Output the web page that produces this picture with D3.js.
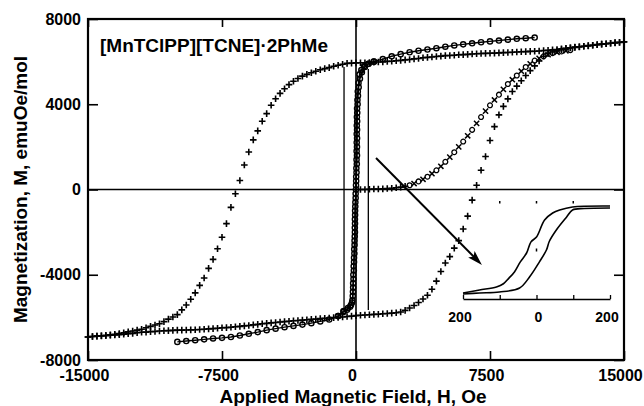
<!DOCTYPE html>
<html>
<head>
<meta charset="utf-8">
<script src="https://cdn.jsdelivr.net/npm/d3@7"></script>
<style>
  body { margin: 0; background: #fff; }
  text { font-family: "Liberation Sans", Arial, sans-serif; font-weight: bold; fill: #000; }
</style>
</head>
<body>
<div id="chart"></div>
<script>
// tick values
const xTicks = [-15000, -7500, 0, 7500, 15000]
const yTicks = [-8000, -4000, 0, 4000, 8000]
const insetTicks = [-200, -100, 0, 100, 200]
const insetLabelAt = [-200, 0, 200]
const insetLabels = ["200", "0", "200"]
const insetTopMarks = [-100, 0, 100]

const title = "[MnTClPP][TCNE]\u00b72PhMe"
const xTitle = "Applied Magnetic Field, H, Oe"
const yTitle = "Magnetization, M, emuOe/mol"

// big loop, "+" markers: [H (Oe), M (emuOe/mol)]
const plusDown = [
  [15000,6930],[14750,6910],[14500,6890],[14250,6860],[14000,6840],[13750,6820],[13500,6800],[13250,6770],
  [13000,6750],[12750,6720],[12500,6700],[12250,6680],[12000,6650],[11750,6630],[11500,6600],[11250,6570],
  [11000,6550],[10750,6530],[10500,6520],[10250,6500],[10000,6490],[9750,6480],[9500,6470],[9250,6460],
  [9000,6450],[8750,6440],[8500,6430],[8250,6420],[8000,6410],[7750,6400],[7500,6390],[7250,6385],
  [7000,6380],[6750,6370],[6500,6360],[6250,6340],[6000,6330],[5750,6320],[5500,6300],[5250,6290],
  [5000,6280],[4750,6260],[4500,6240],[4250,6220],[4000,6200],[3750,6180],[3500,6150],[3250,6130],
  [3000,6100],[2750,6080],[2500,6060],[2250,6040],[2000,6020],[1750,6010],[1500,5990],[1250,5980],
  [1000,5970],[750,5960],[500,5950],[250,5945],[0,5940],[-250,5930],[-500,5920],[-750,5880],
  [-1000,5830],[-1250,5780],[-1500,5720],[-1750,5670],[-2000,5620],[-2250,5550],[-2500,5480],[-2750,5400],
  [-3000,5320],[-3250,5210],[-3500,5080],[-3750,4920],[-4000,4730],[-4250,4510],[-4500,4260],[-4750,3950],
  [-5000,3560],[-5250,3200],[-5500,2750],[-5750,2330],[-6000,1760],[-6250,1150],[-6500,420],[-6750,-200],
  [-7000,-840],[-7250,-1600],[-7500,-2240],[-7750,-2780],[-8000,-3280],[-8250,-3700],[-8500,-4150],[-8750,-4500],
  [-9000,-4850],[-9250,-5150],[-9500,-5420],[-9750,-5650],[-10000,-5870],[-10250,-5980],[-10500,-6080],[-10750,-6200],
  [-11000,-6300],[-11250,-6360],[-11500,-6420],[-11750,-6490],[-12000,-6560],[-12250,-6600],[-12500,-6640],[-12750,-6680],
  [-13000,-6720],[-13250,-6760],[-13500,-6790],[-13750,-6820],[-14000,-6840],[-14250,-6860],[-14500,-6880],[-14750,-6900],
  [-15000,-6920]
]

const plusUp = [
  [-15000,-6920],[-14750,-6900],[-14500,-6880],[-14250,-6870],[-14000,-6860],[-13750,-6840],[-13500,-6830],[-13250,-6810],
  [-13000,-6790],[-12750,-6770],[-12500,-6750],[-12250,-6720],[-12000,-6700],[-11750,-6690],[-11500,-6670],[-11250,-6660],
  [-11000,-6640],[-10750,-6630],[-10500,-6620],[-10250,-6610],[-10000,-6600],[-9750,-6600],[-9500,-6590],[-9250,-6585],
  [-9000,-6580],[-8750,-6570],[-8500,-6555],[-8250,-6540],[-8000,-6530],[-7750,-6510],[-7500,-6490],[-7250,-6480],
  [-7000,-6460],[-6750,-6440],[-6500,-6420],[-6250,-6400],[-6000,-6380],[-5750,-6350],[-5500,-6330],[-5250,-6300],
  [-5000,-6280],[-4750,-6260],[-4500,-6240],[-4250,-6220],[-4000,-6200],[-3750,-6180],[-3500,-6160],[-3250,-6150],
  [-3000,-6130],[-2750,-6110],[-2500,-6090],[-2250,-6080],[-2000,-6060],[-1750,-6040],[-1500,-6030],[-1250,-6010],
  [-1000,-6000],[-750,-5980],[-500,-5960],[-250,-5940],[0,-5920],[250,-5900],[500,-5890],[750,-5880],
  [1000,-5860],[1250,-5850],[1500,-5830],[1750,-5820],[2000,-5800],[2250,-5780],[2500,-5750],[2750,-5670],
  [3000,-5560],[3250,-5440],[3500,-5300],[3750,-5140],[4000,-4960],[4250,-4680],[4500,-4300],[4750,-3850],
  [5000,-3450],[5250,-3150],[5500,-2750],[5750,-2400],[6000,-1850],[6250,-1250],[6500,-500],[6750,200],
  [7000,900],[7250,1550],[7500,2300],[7750,2950],[8000,3500],[8250,3900],[8500,4250],[8750,4600],
  [9000,4850],[9250,5100],[9500,5350],[9750,5580],[10000,5800],[10250,6030],[10500,6250],[10750,6370],
  [11000,6450],[11250,6510],[11500,6560],[11750,6610],[12000,6650],[12250,6670],[12500,6690],[12750,6720],
  [13000,6740],[13250,6770],[13500,6790],[13750,6820],[14000,6840],[14250,6860],[14500,6880],[14750,6900],
  [15000,6920]
]

// initial magnetization curve
const virgin = [
  [0,0],[250,0],[500,0],[750,10],[1000,20],[1250,25],[1500,30],[1750,45],[2000,60],[2250,80],
  [2500,110],[2750,150],[3000,200],[3250,280],[3500,380],[3750,480],[4000,600],[4250,740],[4500,900],
  [4750,1090],[5000,1300],[5250,1520],[5500,1750],[5750,2000],[6000,2250],[6250,2520],[6500,2800],
  [6750,3100],[7000,3400],[7250,3680],[7500,3950],[7750,4200],[8000,4450],[8250,4700],[8500,4950],
  [8750,5150],[9000,5350],[9250,5550],[9500,5750],[9750,5900],[10000,6050],[10250,6150],[10500,6250],
  [10750,6330],[11000,6400],[11250,6440],[11500,6480],[11750,6510],[12000,6540]
]

// narrow loop, open circles joined by a line
const circlesUp = [
  [-10000,-7150],[-9500,-7110],[-9000,-7070],[-8500,-7030],[-8000,-6990],[-7500,-6960],[-7000,-6920],
  [-6500,-6850],[-6000,-6770],[-5500,-6690],[-5000,-6600],[-4500,-6530],[-4000,-6460],[-3500,-6400],
  [-3000,-6340],[-2500,-6270],[-2000,-6190],[-1500,-6100],[-1000,-5940],[-700,-5700],[-450,-5560],
  [-280,-5420],[-200,-5200],[-170,-4800],[-160,-4400],[-150,-4000],[-130,-3600],[-110,-3200],[-100,-2800],
  [-80,-2400],[-60,-2000],[-55,-1600],[-50,-1200],[-40,-800],[-20,-400],[0,0],[10,400],[30,800],
  [45,1200],[55,1600],[55,2000],[60,2400],[60,2800],[65,3200],[70,3600],[90,4000],[110,4400],
  [150,4800],[220,5200],[330,5500],[500,5750],[700,5900],[1000,6000],[1500,6120],[2000,6250],
  [2500,6350],[3000,6440],[3500,6510],[4000,6570],[4500,6630],[5000,6700],[5500,6760],[6000,6810],
  [6500,6860],[7000,6910],[7500,6950],[8000,6990],[8500,7030],[9000,7070],[9500,7100],[10000,7130]
]
const circlesDown = [
  [1000,6000],[700,5900],[450,5780],[300,5600],[200,5400],[140,5000],[100,4600],[80,4200],[60,3800],
  [50,3400],[45,3000],[40,2600],[40,2200],[35,1800],[30,1400],[20,1000],[10,600],[0,200],[-20,-200],
  [-35,-600],[-50,-1000],[-60,-1400],[-65,-1800],[-70,-2200],[-80,-2600],[-90,-3000],[-110,-3400],
  [-120,-3800],[-140,-4200],[-160,-4600],[-180,-5000],[-220,-5300],[-330,-5500],[-500,-5640],
  [-700,-5750],[-1000,-5940]
]

// square loop drawn as plain lines
const squareDown = [[-670,5750],[-670,-5560]]
const squareUp = [[690,-5650],[690,5650]]

// arrow to the inset, data coordinates
const arrowFrom = [1120, 1480]
const arrowTo = [7050, -3540]

// inset loop (H in Oe)
const insetDown = [
  [200,7040],[98,6880],[63,6400],[44,5920],[22,4800],[0,2080],[-15,1300],[-27,-480],
  [-44,-1900],[-60,-3520],[-75,-4500],[-90,-5400],[-109,-5920],[-155,-6400],[-200,-6880]
]
const insetUp = [
  [-200,-7040],[-155,-6880],[-101,-6720],[-46,-6080],[-19,-4320],[8,-1900],[27,0],[35,1400],
  [54,3200],[82,5280],[98,6400],[130,6640],[200,6720]
]

const width = 644
const height = 406
const margin = {top: 19, right: 20, bottom: 46, left: 88}

const svg = d3.select("#chart").append("svg")
  .attr("width", width)
  .attr("height", height)

const x = d3.scaleLinear().domain([-15000, 15000]).range([margin.left, width - margin.right])
const y = d3.scaleLinear().domain([-8000, 8000]).range([height - margin.bottom, margin.top])

// axes
const axisStyle = g => {
  g.select(".domain").remove()
  g.selectAll(".tick line").attr("stroke", "#000").attr("stroke-width", 1.6)
  g.selectAll(".tick text").style("font-size", "16px")
}

svg.append("g")
  .attr("transform", `translate(0,${y(-8000)})`)
  .call(d3.axisBottom(x).tickValues(xTicks).tickSizeInner(-9).tickSizeOuter(0)
    .tickPadding(10).tickFormat(d => String(d)))
  .call(axisStyle)
  .selectAll(".tick text").attr("dx", -4)

svg.append("g")
  .attr("transform", `translate(0,${y(8000)})`)
  .call(d3.axisTop(x).tickValues(xTicks).tickSizeInner(-8).tickSizeOuter(0).tickFormat(""))
  .call(axisStyle)

svg.append("g")
  .attr("transform", `translate(${x(-15000)},0)`)
  .call(d3.axisLeft(y).tickValues(yTicks).tickSizeInner(-10).tickSizeOuter(0)
    .tickPadding(7).tickFormat(d => String(d)))
  .call(axisStyle)

svg.append("g")
  .attr("transform", `translate(${x(15000)},0)`)
  .call(d3.axisRight(y).tickValues(yTicks).tickSizeInner(-10).tickSizeOuter(0).tickFormat(""))
  .call(axisStyle)

// zero lines and frame
svg.append("line")
  .attr("x1", x(-15000)).attr("x2", x(15000))
  .attr("y1", y(0)).attr("y2", y(0))
  .attr("stroke", "#000").attr("stroke-width", 1.6)
svg.append("line")
  .attr("x1", x(0)).attr("x2", x(0))
  .attr("y1", y(8000)).attr("y2", y(-8000))
  .attr("stroke", "#000").attr("stroke-width", 1.6)
svg.append("rect")
  .attr("x", x(-15000)).attr("y", y(8000))
  .attr("width", x(15000) - x(-15000)).attr("height", y(-8000) - y(8000))
  .attr("fill", "none").attr("stroke", "#000").attr("stroke-width", 2.2)

// labels
svg.append("text")
  .attr("x", 100).attr("y", 52)
  .style("font-size", "19px")
  .text(title)

svg.append("text")
  .attr("x", (x(-15000) + x(15000)) / 2 - 3).attr("y", 403)
  .attr("text-anchor", "middle")
  .style("font-size", "19px")
  .text(xTitle)

svg.append("text")
  .attr("transform", `translate(27,${y(0)}) rotate(-90)`)
  .attr("text-anchor", "middle")
  .style("font-size", "19px")
  .text(yTitle)

// data
const line = d3.line().x(d => x(d[0])).y(d => y(d[1]))
const plusPath = "M-3.3,0H3.3M0,-3.3V3.3"
const crossPath = "M-2.6,-2.6L2.6,2.6M-2.6,2.6L2.6,-2.6"

svg.append("path").datum(squareDown).attr("d", line)
  .attr("fill", "none").attr("stroke", "#000").attr("stroke-width", 1.3)
svg.append("path").datum(squareUp).attr("d", line)
  .attr("fill", "none").attr("stroke", "#000").attr("stroke-width", 1.3)

const drawCircles = (data, cls) => {
  svg.append("path").datum(data).attr("d", line)
    .attr("fill", "none").attr("stroke", "#000").attr("stroke-width", 1.4)
  svg.selectAll("." + cls)
    .data(data)
    .enter().append("circle")
      .attr("class", cls)
      .attr("cx", d => x(d[0]))
      .attr("cy", d => y(d[1]))
      .attr("r", 2.6)
      .attr("fill", "none")
      .attr("stroke", "#000")
      .attr("stroke-width", 1.4)
}
drawCircles(circlesUp, "circUp")
drawCircles(circlesDown, "circDown")

svg.selectAll(".plus")
  .data(plusDown.concat(plusUp))
  .enter().append("path")
    .attr("class", "plus")
    .attr("transform", d => `translate(${x(d[0])},${y(d[1])})`)
    .attr("d", plusPath)
    .attr("stroke", "#000")
    .attr("stroke-width", 1.6)

const virginMarks = svg.selectAll(".virgin")
  .data(virgin)
  .enter().append("g")
    .attr("class", "virgin")
    .attr("transform", d => `translate(${x(d[0])},${y(d[1])})`)
virginMarks.filter((d, i) => d[0] < 3000)
  .append("path").attr("d", plusPath).attr("stroke", "#000").attr("stroke-width", 1.6)
virginMarks.filter((d, i) => d[0] >= 3000 && i % 2 === 0)
  .append("circle").attr("r", 2.4).attr("fill", "none").attr("stroke", "#000").attr("stroke-width", 1.3)
virginMarks.filter((d, i) => d[0] >= 3000 && i % 2 === 1)
  .append("path").attr("d", crossPath).attr("stroke", "#000").attr("stroke-width", 1.5)

// arrow
const ax0 = x(arrowFrom[0]), ay0 = y(arrowFrom[1])
const ax1 = x(arrowTo[0]), ay1 = y(arrowTo[1])
const ang = Math.atan2(ay1 - ay0, ax1 - ax0)
svg.append("line")
  .attr("x1", ax0).attr("y1", ay0)
  .attr("x2", ax1 - 8 * Math.cos(ang)).attr("y2", ay1 - 8 * Math.sin(ang))
  .attr("stroke", "#000").attr("stroke-width", 2)
svg.append("path")
  .attr("transform", `translate(${ax1},${ay1}) rotate(${ang * 180 / Math.PI})`)
  .attr("d", "M0,0L-15,-4.5L-12,0L-15,4.5Z")
  .attr("fill", "#000")

// inset
const ix = d3.scaleLinear().domain([-200, 200]).range([463, 610])
const iy = d3.scaleLinear().domain([-8000, 8000]).range([300, 200])
const inset = svg.append("g")

inset.append("g")
  .attr("transform", "translate(0,299)")
  .call(d3.axisBottom(ix).tickValues(insetTicks).tickSizeInner(-4).tickSizeOuter(0).tickFormat(""))
  .call(g => g.select(".domain").attr("stroke-width", 1.5))
  .call(g => g.selectAll(".tick line").attr("stroke-width", 1.3))

inset.selectAll(".ilab")
  .data(insetLabelAt)
  .enter().append("text")
    .attr("class", "ilab")
    .attr("x", (d, i) => ix(d) + (i === 1 ? 2 : -3))
    .attr("y", 322)
    .attr("text-anchor", "middle")
    .style("font-size", "14px")
    .text((d, i) => insetLabels[i])

inset.selectAll(".imark")
  .data(insetTopMarks)
  .enter().append("line")
    .attr("class", "imark")
    .attr("x1", d => ix(d)).attr("x2", d => ix(d))
    .attr("y1", 201).attr("y2", 203.5)
    .attr("stroke", "#000").attr("stroke-width", 1.5)
inset.append("line")
  .attr("x1", ix(0)).attr("x2", ix(0))
  .attr("y1", iy(0) - 1.5).attr("y2", iy(0) + 1.5)
  .attr("stroke", "#000").attr("stroke-width", 1.5)

const iline = d3.line().x(d => ix(d[0])).y(d => iy(d[1])).curve(d3.curveCatmullRom)
inset.append("path").datum(insetDown).attr("d", iline)
  .attr("fill", "none").attr("stroke", "#000").attr("stroke-width", 1.6)
inset.append("path").datum(insetUp).attr("d", iline)
  .attr("fill", "none").attr("stroke", "#000").attr("stroke-width", 1.6)
</script>
</body>
</html>
